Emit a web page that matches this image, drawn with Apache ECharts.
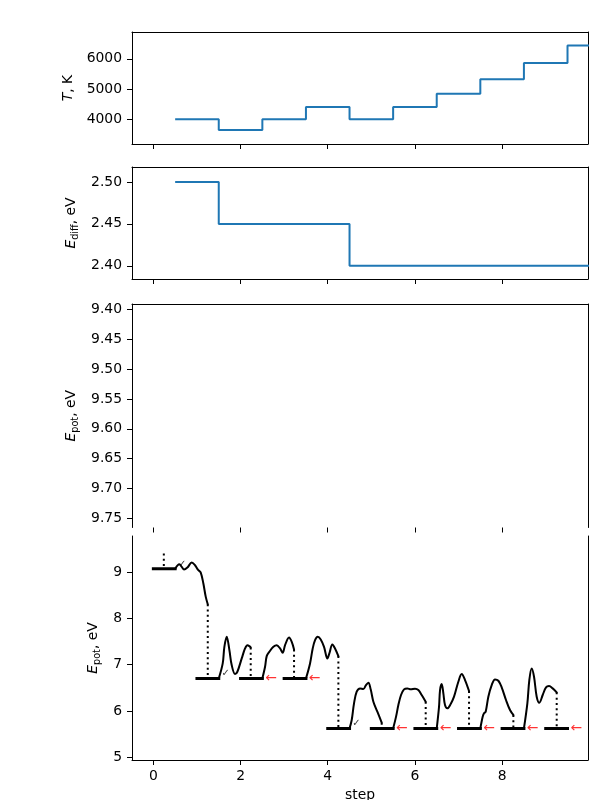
<!DOCTYPE html>
<html><head><meta charset="utf-8">
<script src="https://cdn.jsdelivr.net/npm/echarts@6/dist/echarts.min.js"></script>
<style>html,body{margin:0;padding:0;background:#fff}#c{width:600px;height:800px}</style>
</head><body><div id="c"></div>
<script>
// ---- data ----
const stepIndex = [1,2,3,4,5,6,7,8,9,10];
const temperatureK = [4000,3640,4000,4400,4000,4400,4840,5320,5860,6440];
const eDiffEV = [2.50,2.45,2.45,2.45,2.40,2.40,2.40,2.40,2.40,2.40];

const xTicks = [0,2,4,6,8];
const tTicks = [4000,5000,6000];
const eDiffTicks = [2.40,2.45,2.50];
const upperTicks = [9.40,9.45,9.50,9.55,9.60,9.65,9.70,9.75];
const lowerTicks = [5,6,7,8,9];

const blockStart = [0,1,2,3,4,5,6,7,8,9];
const blockEnergy = [9.07,6.70,6.70,6.70,5.62,5.62,5.62,5.62,5.62,5.62];
const blockAccepted = [true,true,false,false,true,false,false,false,false,false];
const flatLength = 0.5;
const initialDrop = [[0.24,9.40],[0.24,9.07]];

const curve0 = [[0.50,9.07],[0.596,9.166],[0.651,9.108],[0.704,9.052],[0.780,9.095],[0.881,9.203],[0.956,9.144],[1.032,9.037],[1.087,8.987],[1.147,8.750],[1.202,8.461],[1.248,8.304]];
const curve1 = [[1.50,6.70],[1.591,7.025],[1.629,7.384],[1.683,7.600],[1.744,7.312],[1.797,6.989],[1.874,6.795],[1.927,6.845],[2.027,7.133],[2.103,7.348],[2.157,7.420],[2.202,7.399],[2.233,7.370]];
const curve2 = [[2.50,6.70],[2.562,6.953],[2.600,7.183],[2.661,7.277],[2.753,7.384],[2.830,7.420],[2.906,7.348],[2.967,7.255],[3.021,7.420],[3.112,7.585],[3.174,7.492],[3.227,7.327]];
const curve3 = [[3.50,6.70],[3.594,7.025],[3.655,7.348],[3.709,7.528],[3.770,7.600],[3.839,7.543],[3.915,7.384],[3.992,7.133],[4.037,7.241],[4.106,7.435],[4.167,7.348],[4.244,7.183]];
const curve4 = [[4.50,5.62],[4.550,5.804],[4.603,6.163],[4.664,6.414],[4.741,6.486],[4.817,6.472],[4.878,6.558],[4.932,6.609],[4.985,6.465],[5.047,6.199],[5.138,5.983],[5.238,5.746]];
const curve5 = [[5.50,5.62],[5.567,5.876],[5.620,6.127],[5.681,6.343],[5.750,6.465],[5.826,6.486],[5.903,6.465],[6.002,6.479],[6.079,6.450],[6.155,6.343],[6.247,6.199]];
const curve6 = [[6.50,5.62],[6.553,6.091],[6.576,6.450],[6.614,6.580],[6.652,6.379],[6.690,6.127],[6.744,6.055],[6.820,6.149],[6.897,6.307],[6.996,6.630],[7.073,6.795],[7.149,6.666],[7.241,6.429]];
const curve7 = [[7.50,5.62],[7.554,5.876],[7.585,5.948],[7.623,5.983],[7.684,6.307],[7.761,6.558],[7.837,6.680],[7.914,6.651],[7.990,6.508],[8.089,6.235],[8.181,6.019],[8.258,5.912]];
const curve8 = [[8.50,5.62],[8.579,6.163],[8.624,6.666],[8.678,6.917],[8.732,6.738],[8.793,6.307],[8.854,6.177],[8.931,6.343],[9.007,6.508],[9.076,6.537],[9.160,6.486],[9.252,6.400]];
const curves = [curve0,curve1,curve2,curve3,curve4,curve5,curve6,curve7,curve8];

// ---- chart ----
const FONT = 'DejaVu Sans';
const FS = 13.9;
const BLUE = '#1f77b4';
const xMin = -0.49, xMax = 9.97;
const yRanges = [[3177,6890],[2.3842,2.5179],[9.3904,9.7658],[4.94,9.776]];
const yTicks = [tTicks, eDiffTicks, upperTicks, lowerTicks];
const yFmt = [v=>String(Math.round(v)), v=>v.toFixed(2), v=>v.toFixed(2), v=>String(Math.round(v))];
const yNames = ['{i|T}{n|, K}','{i|E}{s|diff}{n|, eV}','{i|E}{s|pot}{n|, eV}','{i|E}{s|pot}{n|, eV}'];
const yNameGaps = [48,47,49,25];

const grids = [
  {left:132, top:32, width:456, height:112},
  {left:132, top:167, width:456, height:112},
  {left:132, top:304, width:456, height:223.5},
  {left:132, top:536, width:456, height:224}
].map(g => Object.assign(g, {containLabel:false, outerBoundsMode:'none'}));

const axLine = {color:'#000', width:1};
const tick = {show:true, inside:false, length:5, lineStyle:{color:'#000', width:1}};
const labelTxt = {color:'#000', fontSize:FS, fontFamily:FONT};
const rich = {
  i:{fontStyle:'italic', fontSize:FS, fontFamily:FONT, color:'#000', lineHeight:18},
  n:{fontSize:FS, fontFamily:FONT, color:'#000', lineHeight:18},
  s:{fontSize:9.7, fontFamily:FONT, color:'#000', lineHeight:9, verticalAlign:'bottom'}
};

const xAxes = [], yAxes = [];
for (let g=0; g<4; g++) {
  xAxes.push({
    type:'value', gridIndex:g, min:xMin, max:xMax, position:'bottom',
    axisLine:{show:g!==2, onZero:false, lineStyle:axLine},
    axisTick:Object.assign({customValues:xTicks}, tick),
    axisLabel:Object.assign({show:g===3, customValues:xTicks, margin:9}, labelTxt),
    splitLine:{show:false},
    name: g===3 ? 'step' : '', nameLocation:'middle', nameGap:28,
    nameTextStyle:{color:'#000', fontSize:FS, fontFamily:FONT}
  });
}
for (let g=0; g<3; g++) {
  xAxes.push({type:'value', gridIndex:g, min:xMin, max:xMax, position:'top',
    axisLine:{show:true, onZero:false, lineStyle:axLine}, axisTick:{show:false}, axisLabel:{show:false}, splitLine:{show:false}});
}
for (let g=0; g<4; g++) {
  yAxes.push({
    type:'value', gridIndex:g, min:yRanges[g][0], max:yRanges[g][1], position:'left', inverse: g===2,
    axisLine:{show:true, onZero:false, lineStyle:axLine},
    axisTick:Object.assign({customValues:yTicks[g]}, tick),
    axisLabel:Object.assign({customValues:yTicks[g], margin:10, formatter:yFmt[g]}, labelTxt),
    splitLine:{show:false},
    name:yNames[g], nameLocation:'middle', nameGap:yNameGaps[g], nameRotate:90,
    nameTextStyle:{color:'#000', fontSize:FS, fontFamily:FONT, rich:rich}
  });
}
for (let g=0; g<4; g++) {
  yAxes.push({type:'value', gridIndex:g, min:yRanges[g][0], max:yRanges[g][1], position:'right', inverse: g===2,
    axisLine:{show:true, onZero:false, lineStyle:axLine}, axisTick:{show:false}, axisLabel:{show:false}, splitLine:{show:false}});
}

const series = [];
function stepData(vals) {
  const d = stepIndex.map((s,k)=>[s-0.5, vals[k]]);
  d.push([stepIndex[stepIndex.length-1]+0.5, vals[vals.length-1]]);
  return d;
}
series.push({type:'line', xAxisIndex:0, yAxisIndex:0, step:'end', data:stepData(temperatureK), showSymbol:false,
  lineStyle:{color:BLUE, width:2}, clip:true});
series.push({type:'line', xAxisIndex:1, yAxisIndex:1, step:'end', data:stepData(eDiffEV), showSymbol:false,
  lineStyle:{color:BLUE, width:2}, clip:true});

const lineBase = {type:'line', xAxisIndex:3, yAxisIndex:3, showSymbol:false, symbol:'none', silent:true, clip:true};
const dots = {color:'#000', width:2, type:[2,3.3]};
series.push(Object.assign({}, lineBase, {data:initialDrop, lineStyle:dots}));
blockStart.forEach((s,k)=>{
  series.push(Object.assign({}, lineBase, {data:[[s,blockEnergy[k]],[s+flatLength,blockEnergy[k]]],
    lineStyle:{color:'#000', width:3, cap:'square'}}));
  if (k < curves.length) {
    const c = curves[k];
    series.push(Object.assign({}, lineBase, {data:c, smooth:0.35, lineStyle:{color:'#000', width:2, cap:'round'}}));
    const end = c[c.length-1];
    series.push(Object.assign({}, lineBase, {data:[[end[0],end[1]],[end[0],blockEnergy[k+1]]], lineStyle:dots}));
  }
});
const checkData = [], arrowData = [];
blockStart.forEach((s,k)=>{
  if (blockAccepted[k]) checkData.push([s+flatLength+0.16, blockEnergy[k]+0.1]);
  else arrowData.push([s+flatLength+0.2, blockEnergy[k]]);
});
const markBase = {type:'scatter', xAxisIndex:3, yAxisIndex:3, symbol:'rect', symbolSize:1, silent:true, z:5,
  itemStyle:{color:'rgba(0,0,0,0)'}};
series.push(Object.assign({}, markBase, {data:checkData,
  label:{show:true, position:'inside', formatter:'\u2713', color:'#000', fontSize:10, fontWeight:'bold', fontFamily:FONT}}));
series.push(Object.assign({}, markBase, {data:arrowData,
  label:{show:true, position:'inside', formatter:'\u2190', color:'#ff0000', fontSize:FS, fontFamily:FONT}}));

const chart = echarts.init(document.getElementById('c'), null, {renderer:'canvas', width:600, height:800});
chart.setOption({
  animation:false, backgroundColor:'#fff',
  grid:grids, xAxis:xAxes, yAxis:yAxes, series:series
});
</script></body></html>
